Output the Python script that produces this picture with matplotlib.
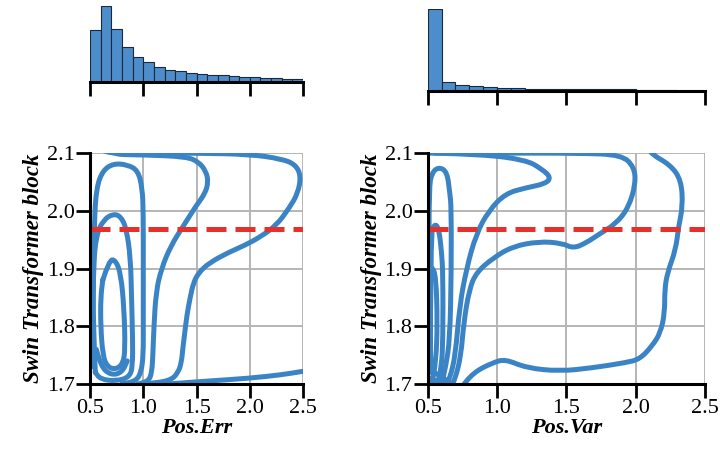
import matplotlib
matplotlib.use("Agg")
import matplotlib.pyplot as plt
from matplotlib.path import Path
from matplotlib.patches import PathPatch

# histogram data (bin width 0.1 from 0.5 to 2.5)
bin_edges = [0.5 + 0.1 * i for i in range(21)]
hist_err = [155, 228, 159, 105, 75, 59, 45, 37, 33, 27, 24, 22, 20, 18, 16, 14, 13, 12, 10, 9]
hist_var = [243, 25, 17, 14, 11, 9, 8, 7, 7, 6, 6, 6, 5, 5, 5, 4, 3, 2, 1, 1]

threshold = 1.968

# contour lines (x, y)
err_lines = [
    [(1.0, 1.697), (1.3, 1.701), (1.6, 1.705), (2.0, 1.71), (2.3, 1.716), (2.5, 1.722)],
    [(0.53, 2.12), (0.6, 2.102), (0.8, 2.1), (1.5, 2.1), (2.0, 2.098), (2.3, 2.09), (2.43, 2.08), (2.48, 2.06),
     (2.45, 2.03), (2.37, 2.005), (2.25, 1.975), (2.1, 1.955), (1.95, 1.94), (1.8, 1.928), (1.62, 1.91),
     (1.52, 1.893), (1.47, 1.875), (1.44, 1.85), (1.41, 1.82), (1.39, 1.79), (1.37, 1.76), (1.36, 1.74),
     (1.33, 1.72), (1.25, 1.705), (1.0, 1.70)],
    [(0.56, 2.12), (0.65, 2.098), (1.0, 2.097), (1.4, 2.094), (1.52, 2.085), (1.59, 2.068), (1.61, 2.05),
     (1.58, 2.03), (1.5, 2.01), (1.38, 1.975), (1.26, 1.94), (1.17, 1.9), (1.12, 1.86), (1.1, 1.8),
     (1.09, 1.75), (1.08, 1.72), (1.05, 1.705), (0.95, 1.70)],
    [(0.52, 1.73), (0.53, 1.85), (0.54, 1.98), (0.56, 2.04), (0.62, 2.07), (0.72, 2.082), (0.85, 2.08),
     (0.95, 2.07), (0.99, 2.04), (1.0, 2.0), (1.0, 1.9), (1.0, 1.8), (1.0, 1.75), (0.98, 1.72), (0.93, 1.705),
     (0.8, 1.70)],
    [(0.55, 1.72), (0.53, 1.8), (0.53, 1.9), (0.56, 1.96), (0.63, 1.985), (0.72, 1.995), (0.79, 1.99),
     (0.84, 1.97), (0.88, 1.92), (0.89, 1.85), (0.9, 1.78), (0.9, 1.73), (0.87, 1.712), (0.75, 1.705),
     (0.6, 1.708), (0.55, 1.72)],
    [(0.62, 1.88), (0.68, 1.915), (0.74, 1.915), (0.79, 1.89), (0.82, 1.83), (0.83, 1.76), (0.81, 1.735),
     (0.74, 1.725), (0.66, 1.73), (0.62, 1.75), (0.6, 1.8), (0.6, 1.85), (0.62, 1.88)],
    [(0.56, 1.76), (0.6, 1.73), (0.7, 1.715), (0.8, 1.72), (0.85, 1.74)],
]

var_lines = [
    [(2.05, 2.12), (2.1, 2.1), (2.25, 2.08), (2.33, 2.053), (2.34, 2.007), (2.31, 1.973), (2.29, 1.933),
     (2.23, 1.893), (2.21, 1.864), (2.21, 1.823), (2.18, 1.789), (2.12, 1.766), (2.03, 1.743), (1.93, 1.737),
     (1.69, 1.728), (1.45, 1.722), (1.21, 1.728), (1.06, 1.743), (0.97, 1.737), (0.83, 1.72), (0.73, 1.69)],
    [(0.5, 2.1), (1.0, 2.1), (1.6, 2.1), (1.9, 2.097), (1.99, 2.076), (2.0, 2.047), (1.95, 2.006),
     (1.86, 1.978), (1.74, 1.96), (1.64, 1.944), (1.55, 1.935), (1.47, 1.944), (1.3, 1.947), (1.11, 1.938),
     (0.97, 1.918), (0.85, 1.893), (0.8, 1.864), (0.76, 1.806), (0.74, 1.749), (0.7, 1.71), (0.66, 1.69)],
    [(0.55, 2.1), (0.9, 2.098), (1.21, 2.088), (1.32, 2.073), (1.39, 2.058), (1.35, 2.047), (1.21, 2.04),
     (1.06, 2.03), (0.94, 2.0), (0.85, 1.96), (0.78, 1.90), (0.73, 1.835), (0.7, 1.749), (0.66, 1.71),
     (0.62, 1.69)],
    [(0.51, 1.72), (0.51, 1.9), (0.51, 2.04), (0.53, 2.066), (0.58, 2.076), (0.64, 2.068), (0.66, 2.03),
     (0.67, 2.007), (0.67, 1.89), (0.66, 1.777), (0.63, 1.73), (0.6, 1.70)],
    [(0.52, 1.72), (0.52, 1.96), (0.55, 1.978), (0.58, 1.97), (0.6, 1.93), (0.61, 1.89), (0.61, 1.777),
     (0.6, 1.73), (0.57, 1.70)],
    [(0.5, 1.9), (0.53, 1.905), (0.56, 1.886), (0.57, 1.806), (0.56, 1.74), (0.53, 1.70)],
    [(0.5, 1.725), (0.55, 1.72), (0.6, 1.712), (0.68, 1.70)],
    [(0.5, 1.712), (0.56, 1.705), (0.62, 1.70)],
]

plt.rcParams['font.family'] = ['Liberation Serif', 'DejaVu Serif']

blue = '#3a84c6'
fig = plt.figure(figsize=(7.2, 4.5), dpi=100)

ax_h1 = fig.add_axes([0.125, 0.8178, 0.296, 0.169])
ax_h2 = fig.add_axes([0.594, 0.798, 0.385, 0.182])
ax_c1 = fig.add_axes([0.125, 0.1467, 0.296, 0.513])
ax_c2 = fig.add_axes([0.594, 0.1467, 0.385, 0.513])

for ax, vals in [(ax_h1, hist_err), (ax_h2, hist_var)]:
    ax.bar(bin_edges[:-1], vals, width=0.1, align='edge', color='#4d8dcb', edgecolor='#1a2a3a', linewidth=0.8)
    ax.set_xlim(0.5, 2.5)
    ax.set_ylim(0, max(vals))
    for s in ['top', 'right', 'left']:
        ax.spines[s].set_visible(False)
    ax.spines['bottom'].set_linewidth(2.2)
    ax.set_yticks([])
    ax.set_xticks([0.5, 1.0, 1.5, 2.0, 2.5])
    ax.tick_params(axis='x', length=10, width=2, labelbottom=False)
    ax.patch.set_alpha(0)


def smooth_path(pts):
    # traced points used as quadratic bezier control points
    verts = [pts[0]]
    codes = [Path.MOVETO]
    for i in range(1, len(pts) - 1):
        mid = ((pts[i][0] + pts[i + 1][0]) / 2, (pts[i][1] + pts[i + 1][1]) / 2)
        verts += [pts[i], mid]
        codes += [Path.CURVE3, Path.CURVE3]
    verts.append(pts[-1])
    codes.append(Path.LINETO)
    return Path(verts, codes)


for ax, lines, lab in [(ax_c1, err_lines, 'Pos.Err'), (ax_c2, var_lines, 'Pos.Var')]:
    for ln in lines:
        patch = PathPatch(smooth_path(ln), facecolor='none', edgecolor=blue, lw=3.6,
                          joinstyle='round', capstyle='round', zorder=3)
        ax.add_patch(patch)
    ax.plot([0.5, 2.5], [threshold, threshold], color='#e8302a', lw=3.6, dashes=(4, 1.8), zorder=4)
    ax.set_xlim(0.5, 2.5)
    ax.set_ylim(1.7, 2.1)
    ax.set_xticks([0.5, 1.0, 1.5, 2.0, 2.5])
    ax.set_yticks([1.7, 1.8, 1.9, 2.0, 2.1])
    ax.grid(True, color='#b5b5b5', lw=1.4, zorder=0)
    ax.set_axisbelow(True)
    for s in ['top', 'right']:
        ax.spines[s].set_visible(False)
    for s in ['left', 'bottom']:
        ax.spines[s].set_linewidth(2.2)
        ax.spines[s].set_zorder(5)
    ax.tick_params(length=10, width=2, labelsize=16, pad=1)
    ax.set_xlabel(lab, fontsize=16, fontweight='bold', fontstyle='italic', labelpad=0)
    ax.set_ylabel('Swin Transformer block', fontsize=16.5, fontweight='bold', fontstyle='italic', labelpad=2)

fig.savefig('out.png', dpi=100)
